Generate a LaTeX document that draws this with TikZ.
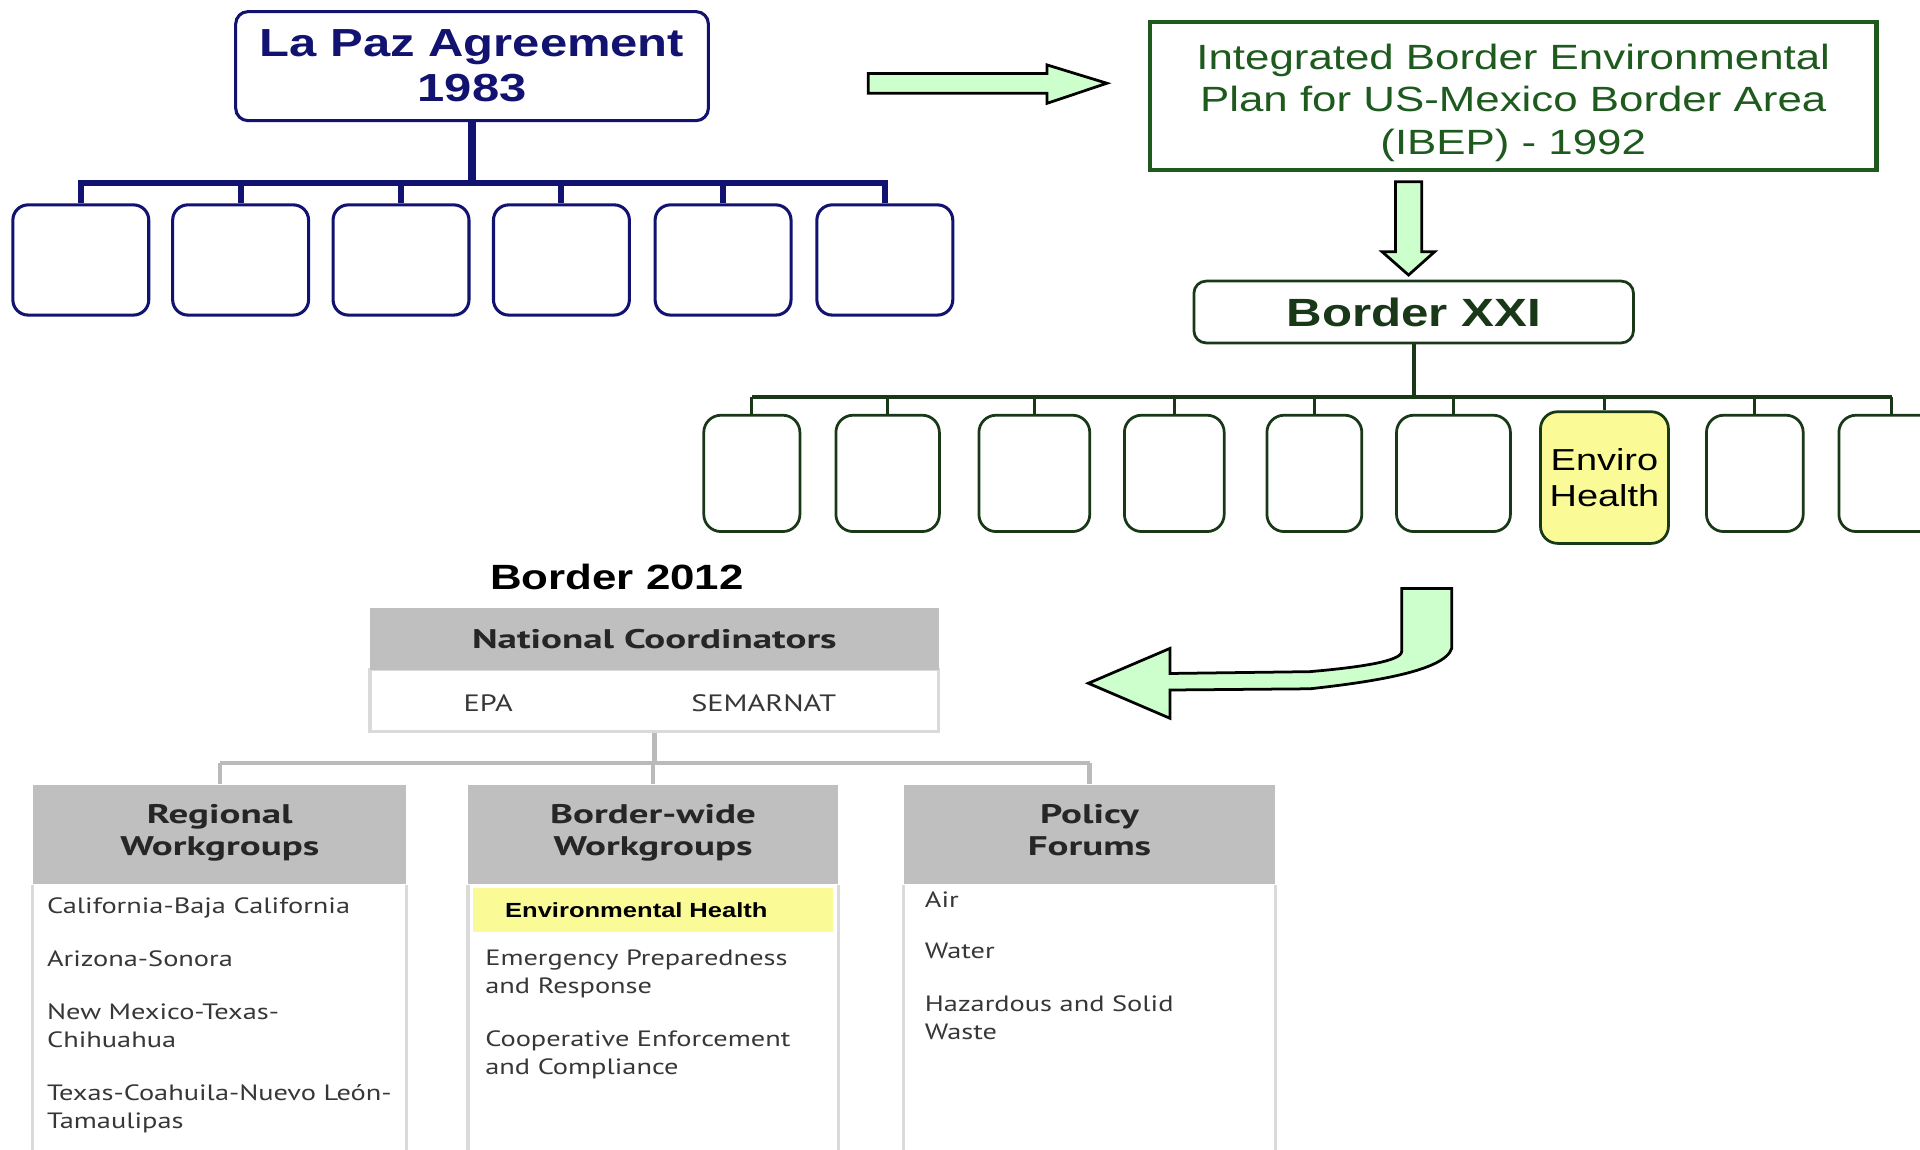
\documentclass[tikz,border=0pt]{standalone}
\usepackage{fontspec}
\newfontfamily\widesans[FakeStretch=1.25]{Liberation Sans}
\newfontfamily\tblsans[FakeStretch=1.28]{PT Sans}
\newfontfamily\tblhead[FakeStretch=1.45]{PT Sans}
\definecolor{pazblue}{RGB}{18,18,112}
\definecolor{ibepgreen}{RGB}{30,90,30}
\definecolor{xxigreen}{RGB}{24,56,24}
\definecolor{arrowgreen}{RGB}{204,255,204}
\definecolor{headgray}{RGB}{191,191,191}
\definecolor{rulegray}{RGB}{218,218,218}
\definecolor{linkgray}{RGB}{186,186,186}
\definecolor{envyellow}{RGB}{250,250,150}
\definecolor{itemgray}{RGB}{55,55,55}

\begin{document}
\begin{tikzpicture}[x=0.2mm,y=-0.2mm,
    pazbox/.style={draw=pazblue,line width=0.5mm,rounded corners=2mm,text=pazblue,align=center,font=\widesans\bfseries\fontsize{18.2}{20.9}\selectfont},
    pazsub/.style={draw=pazblue,line width=0.5mm,rounded corners=2.5mm,minimum width=22.2mm,minimum height=18mm},
    pazline/.style={pazblue,line width=1mm},
    xxisub/.style={draw=xxigreen,line width=0.45mm,rounded corners=2.8mm,minimum width=#1,minimum height=19mm},
    xxiline/.style={xxigreen,line width=0.7mm},
    blockarrow/.style={draw=black,fill=arrowgreen,line width=0.45mm},
    grayhead/.style={fill=headgray,text=black!85,align=center,minimum height=16.2mm,font=\tblhead\bfseries\fontsize{12.5}{14.7}\selectfont},
    linkline/.style={linkgray,line width=0.7mm},
    colrule/.style={rulegray,line width=0.5mm},
    itemlist/.style={anchor=north west,inner sep=0pt,align=left,text=itemgray,font=\tblsans\fontsize{10.3}{13.1}\selectfont}]
    \useasboundingbox (0,0) rectangle (1568,939);
    \clip (0,0) rectangle (1568,939);

    \node[pazbox,minimum width=77.2mm,minimum height=17.8mm] (lapaz) at (385.5,54) {La Paz Agreement\\1983};
    \foreach \i/\x in {1/66,2/196.5,3/327.5,4/458.5,5/590.5,6/722.6}
        \node[pazsub] (paz\i) at (\x,212.3) {};
    \coordinate (pazbar) at (385.5,149.2);
    \draw[pazline,line width=1.3mm] (lapaz.south) -- (pazbar);
    \draw[pazline,line cap=rect] (paz1.north |- pazbar) -- (paz6.north |- pazbar);
    \foreach \i in {1,...,6}
        \draw[pazline] (paz\i.north |- pazbar) -- (paz\i.north);

    \draw[blockarrow] (709,60) -- (855,60) -- (855,53) -- (904,68) -- (855,84.4) -- (855,76.2) -- (709,76.2) -- cycle;

    \node[draw=ibepgreen,line width=0.7mm,minimum width=118.7mm,minimum height=24.2mm] (ibep) at (1235.8,78.3) {};
    \node[text=ibepgreen,align=center,font=\widesans\fontsize{16.3}{19.7}\selectfont] (ibeptext) at ([yshift=-1.1mm]ibep.center) {Integrated Border Environmental\\Plan for US-Mexico Border Area\\(IBEP) - 1992};

    \draw[blockarrow] (1139.6,148.4) -- (1161,148.4) -- (1161,205.5) -- (1171.7,205.5) -- (1150.3,224.6) -- (1128.6,205.5) -- (1139.6,205.5) -- cycle;

    \node[draw=xxigreen,line width=0.45mm,rounded corners=2mm,minimum width=71.8mm,minimum height=10.1mm,text=xxigreen,font=\widesans\bfseries\fontsize{18.3}{20}\selectfont] (xxi) at (1154.5,254.8) {Border XXI};
    \foreach \i/\x/\w in {1/614/15.7mm,2/724.9/16.9mm,3/844.7/18.1mm,4/959/16.3mm,5/1073.4/15.5mm,6/1187/18.6mm,8/1433.1/15.8mm,9/1545/17.3mm}
        \node[xxisub=\w] (xxi\i) at (\x,386.6) {};
    \node[xxisub=20.9mm,minimum height=21.5mm,fill=envyellow,align=center,font=\widesans\fontsize{14.1}{17}\selectfont] (xxi7) at (1310.3,390) {Enviro\\Health};
    \coordinate (xxibar) at (1154.5,324.5);
    \draw[xxiline] (xxi.south) -- (xxibar);
    \draw[xxiline] (xxi1.north |- xxibar) -- (xxi9.north |- xxibar);
    \foreach \i in {1,...,9}
        \draw[xxigreen,line width=0.45mm] (xxi\i.north |- xxibar) -- (xxi\i.north);

    \draw[blockarrow] (1144.7,480.5) -- (1185.5,480.5) -- (1185.5,529.5) .. controls (1180,548) and (1120,557) .. (1069.8,562.5) -- (955.5,563.5) -- (955.5,586.6) -- (888.8,558) -- (955.5,529.5) -- (955.5,550) -- (1069.8,548.5) .. controls (1110,545) and (1144.7,540) .. (1144.7,532) -- cycle;

    \node[anchor=base,font=\widesans\bfseries\fontsize{16.3}{18}\selectfont] (b2012) at (503.8,481.8) {Border 2012};
    \node[draw=rulegray,line width=0.5mm,fill=white,minimum width=92.9mm,minimum height=10.1mm] (ncbody) at (534.4,572.3) {};
    \node[grayhead,minimum width=92.9mm,minimum height=10mm] (nc) at (534.4,521.9) {National Coordinators};
    \node[anchor=base,text=itemgray,font=\tblsans\fontsize{11}{13}\selectfont] (epa) at (398.7,581) {EPA};
    \node[anchor=base,text=itemgray,font=\tblsans\fontsize{11}{13}\selectfont] (semarnat) at (623.7,581) {SEMARNAT};

    \node[grayhead,minimum width=60.9mm] (reg) at (179.5,681.5) {Regional\\Workgroups\strut};
    \node[grayhead,minimum width=60.3mm] (bw) at (533.3,681.5) {Border-wide\\Workgroups\strut};
    \node[grayhead,minimum width=60.7mm] (pol) at (889.8,681.5) {Policy\\Forums\strut};
    \coordinate (linkbar) at (534.4,623);
    \draw[linkline] (ncbody.south) -- (linkbar);
    \draw[linkline] (reg.north |- linkbar) -- (pol.north |- linkbar);
    \foreach \c in {reg,bw,pol}
        \draw[linkline] (\c.north |- linkbar) -- (\c.north);
    \coordinate (pagefoot) at (0,945);
    \foreach \c in {reg,bw,pol}
        \draw[colrule] (\c.south west) -- (\c.south west |- pagefoot) (\c.south east) -- (\c.south east |- pagefoot);

    \node[fill=envyellow,minimum height=7.1mm,inner xsep=5.3mm,text width=48.2mm,align=left,font=\widesans\bfseries\fontsize{9.5}{11}\selectfont] (envrow) at (533,743.2) {Environmental Health};
    \node[itemlist] (regitems) at (38.1,729.8) {\strut California-Baja California\\[11.4pt]Arizona-Sonora\\[11.4pt]New Mexico-Texas-\\Chihuahua\\[11.4pt]Texas-Coahuila-Nuevo León-\\Tamaulipas};
    \node[itemlist] (bwitems) at (396,771.9) {\strut Emergency Preparedness\\and Response\\[11.4pt]Cooperative Enforcement\\and Compliance};
    \node[itemlist] (politems) at (755,724.3) {\strut Air\\[11pt]Water\\[11.4pt]Hazardous and Solid\\Waste};
\end{tikzpicture}
\end{document}
